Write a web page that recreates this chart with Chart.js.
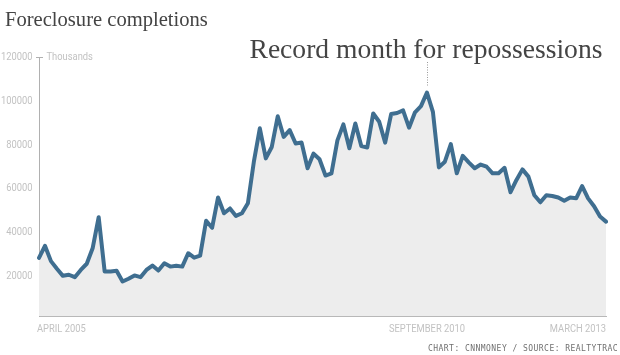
<!DOCTYPE html>
<html><head><meta charset="utf-8">
<script src="https://cdn.jsdelivr.net/npm/chart.js@4.4.1/dist/chart.umd.min.js"></script>
<style>html,body{margin:0;padding:0;background:#fff;}#wrap{position:relative;width:620px;height:355px;}</style>
</head><body><div id="wrap"><canvas id="c" width="620" height="355"></canvas></div>
<script>
const MONTH_NAMES = ['JANUARY','FEBRUARY','MARCH','APRIL','MAY','JUNE','JULY','AUGUST','SEPTEMBER','OCTOBER','NOVEMBER','DECEMBER'];
// categories: April 2005 .. March 2013
const months = [];
for (let i = 0; i < 96; i++) { const k = 3 + i; months.push(MONTH_NAMES[k % 12] + ' ' + (2005 + Math.floor(k / 12))); }

const completions = [
  28500, 34000, 27000, 23500, 20300, 20800, 19700, 23000, 25800, 33000,
  47000, 22300, 22300, 22600, 17700, 19000, 20500, 19700, 23000, 25000,
  22700, 26000, 24500, 24900, 24500, 30600, 28600, 29500, 45400, 42200,
  56000, 48800, 51000, 47600, 48800, 53400, 72300, 87500, 73800, 79000,
  93000, 83600, 86700, 80600, 81000, 69300, 76000, 73400, 66000, 67000,
  82000, 89300, 78400, 89700, 79400, 78800, 94300, 90500, 81000, 94000,
  94500, 95700, 87800, 94800, 97600, 103800, 95000, 69700, 72300, 80300,
  67000, 75000, 72000, 69300, 71000, 70000, 67000, 67000, 69500, 58400,
  64000, 68800, 65500, 57000, 53800, 57000, 56700, 56000, 54500, 56000,
  55600, 61200, 55600, 52000, 47300, 45000
];
const yTicks = [20000, 40000, 60000, 80000, 100000, 120000];
const xTickLabels = ['APRIL 2005', 'SEPTEMBER 2010', 'MARCH 2013'];
const recordMonth = 'SEPTEMBER 2010';
const titleText = 'Foreclosure completions';
const annotationText = 'Record month for repossessions';
const unitText = 'Thousands';
const sourceText = 'CHART: CNNMONEY / SOURCE: REALTYTRAC';

const SERIF = '"Liberation Serif", "DejaVu Serif", serif';
const SANS = 'Roboto, "Liberation Sans", sans-serif';
const LABEL_GRAY = '#c2c2c2';
const SQUEEZE = 0.85;

function fitFont(ctx, text, family, weight, base, width) {
  ctx.font = weight + ' ' + base + 'px ' + family;
  const w = ctx.measureText(text).width;
  const size = base * width / w;
  ctx.font = weight + ' ' + size + 'px ' + family;
}
function narrowText(ctx, text, x, y, align) {
  ctx.save();
  ctx.translate(x, y);
  ctx.scale(SQUEEZE, 1);
  ctx.textAlign = align;
  ctx.fillText(text, 0, 0);
  ctx.restore();
}

const decor = {
  id: 'decor',
  afterDraw(chart) {
    const ctx = chart.ctx;
    const xs = chart.scales.x, ys = chart.scales.y;
    const ax = chart.chartArea.left;
    ctx.save();
    // title
    ctx.fillStyle = '#444444';
    ctx.textBaseline = 'alphabetic';
    ctx.textAlign = 'left';
    fitFont(ctx, titleText, SERIF, 'normal', 20, 203);
    ctx.fillText(titleText, 5, 25.5);
    // annotation
    const ri = months.indexOf(recordMonth);
    const px = xs.getPixelForValue(ri);
    const py = ys.getPixelForValue(completions[ri]);
    fitFont(ctx, annotationText, SERIF, 'normal', 25, 353);
    ctx.textAlign = 'center';
    ctx.fillText(annotationText, px - 1, 57.5);
    ctx.strokeStyle = '#9a9a9a';
    ctx.lineWidth = 1;
    ctx.setLineDash([1, 1.5]);
    ctx.beginPath();
    ctx.moveTo(Math.round(px) + 0.5, 62);
    ctx.lineTo(Math.round(px) + 0.5, py - 6);
    ctx.stroke();
    ctx.setLineDash([]);
    // y tick labels
    ctx.fillStyle = LABEL_GRAY;
    ctx.font = '11px ' + SANS;
    ctx.textBaseline = 'middle';
    yTicks.forEach(v => {
      narrowText(ctx, String(v), ax - 6.5, ys.getPixelForValue(v), 'right');
    });
    // unit tick + label
    const ty = Math.round(ys.getPixelForValue(yTicks[yTicks.length - 1])) + 0.5;
    ctx.strokeStyle = '#b0b0b0';
    ctx.beginPath();
    ctx.moveTo(ax - 3, ty); ctx.lineTo(ax + 4, ty); ctx.stroke();
    narrowText(ctx, unitText, ax + 7.5, ty, 'left');
    // x labels
    ctx.textBaseline = 'alphabetic';
    ctx.font = '11px ' + SANS;
    xTickLabels.forEach((lab, k) => {
      const i = months.indexOf(lab);
      const x = xs.getPixelForValue(i);
      const align = k === 0 ? 'left' : (k === xTickLabels.length - 1 ? 'right' : 'center');
      narrowText(ctx, lab, k === 0 ? x - 2 : x, 332, align);
    });
    // source
    ctx.fillStyle = '#707070';
    ctx.font = '8px "DejaVu Sans Mono", monospace';
    const n = sourceText.length;
    const w0 = ctx.measureText(sourceText).width;
    ctx.letterSpacing = ((190 - w0) / n) + 'px';
    ctx.textAlign = 'left';
    ctx.fillText(sourceText, 428, 351);
    ctx.restore();
  }
};

new Chart(document.getElementById('c'), {
  type: 'line',
  data: {
    labels: months,
    datasets: [{
      data: completions,
      borderColor: '#3f6e90',
      borderWidth: 4,
      backgroundColor: '#ededed',
      fill: 'start',
      pointRadius: 0,
      tension: 0,
      borderJoinStyle: 'round',
      borderCapStyle: 'round'
    }]
  },
  options: {
    responsive: false,
    animation: false,
    events: [],
    layout: { padding: { left: 0, right: 14, top: 57, bottom: 39 } },
    plugins: { legend: { display: false }, tooltip: { enabled: false } },
    scales: {
      x: {
        type: 'category',
        offset: false,
        grid: { display: false, drawTicks: false },
        border: { display: true, color: '#b8b8b8', width: 1 },
        ticks: { display: false },
        afterFit(s) { s.height = 0; }
      },
      y: {
        min: 2000, max: 120000,
        grid: { display: false, drawTicks: false },
        border: { display: true, color: '#b0b0b0', width: 1 },
        afterBuildTicks(s) { s.ticks = yTicks.map(v => ({ value: v })); },
        afterFit(s) { s.width = 39; },
        ticks: { display: false }
      }
    }
  },
  plugins: [decor]
});
</script>
</body></html>
